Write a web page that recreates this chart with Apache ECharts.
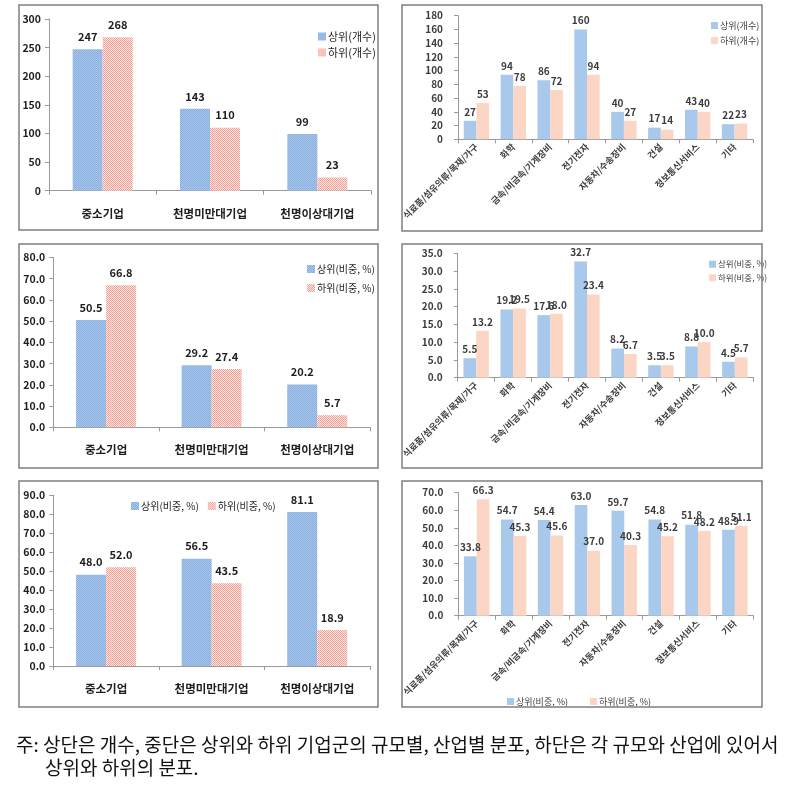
<!DOCTYPE html>
<html><head><meta charset="utf-8">
<script src="https://cdn.jsdelivr.net/npm/echarts@6/dist/echarts.min.js"></script>
<style>html,body{margin:0;padding:0;background:#fff}#c{width:787px;height:786px}</style>
</head><body><div id="c"></div>
<script>
// ---- data ----
const cats3 = ['중소기업', '천명미만대기업', '천명이상대기업'];
const cats8 = ['식료품/섬유의류/목재/가구', '화학', '금속/비금속/기계장비', '전기전자', '자동차/수송장비', '건설', '정보통신서비스', '기타'];

const cntTop3 = [247, 143, 99];
const cntBot3 = [268, 110, 23];
const cntTop8 = [27, 94, 86, 160, 40, 17, 43, 22];
const cntBot8 = [53, 78, 72, 94, 27, 14, 40, 23];

const shrTop3 = [50.5, 29.2, 20.2];
const shrBot3 = [66.8, 27.4, 5.7];
const shrTop8 = [5.5, 19.2, 17.6, 32.7, 8.2, 3.5, 8.8, 4.5];
const shrBot8 = [13.2, 19.5, 18.0, 23.4, 6.7, 3.5, 10.0, 5.7];

const distTop3 = [48.0, 56.5, 81.1];
const distBot3 = [52.0, 43.5, 18.9];
const distTop8 = [33.8, 54.7, 54.4, 63.0, 59.7, 54.8, 51.8, 48.9];
const distBot8 = [66.3, 45.3, 45.6, 37.0, 40.3, 45.2, 48.2, 51.1];

const axisMax = [300, 180, 80, 35, 90, 70];
const axisStep = [50, 20, 10, 5, 10, 10];

const nameCntTop = '상위(개수)', nameCntBot = '하위(개수)';
const nameShrTop = '상위(비중, %)', nameShrBot = '하위(비중, %)';

const footLine1 = '주: 상단은 개수, 중단은 상위와 하위 기업군의 규모별, 산업별 분포, 하단은 각 규모와 산업에 있어서';
const footLine2 = '상위와 하위의 분포.';

// ---- styles ----
const FF = "'Noto Sans CJK KR', 'Noto Sans', sans-serif";
function makePattern(c1, c2) {
  const cv = document.createElement('canvas');
  cv.width = 2; cv.height = 2;
  const g = cv.getContext('2d');
  g.fillStyle = c1; g.fillRect(0, 0, 2, 2);
  g.fillStyle = c2; g.fillRect(0, 0, 1, 1); g.fillRect(1, 1, 1, 1);
  return { image: cv, repeat: 'repeat' };
}
const blueL = makePattern('#a6c6ec', '#8aafdf');
const redL = makePattern('#fce6e1', '#f3a096');
const blueR = '#a8c9ec';
const redR = '#fcd6c5';

const panels = [
  { grid: { left: 49, top: 19, width: 322, height: 171.7 }, cats: cats3, top: cntTop3, bot: cntBot3, dec: 0,
    names: [nameCntTop, nameCntBot], side: 'L', lf: 11,
    legend: { orient: 'vertical', left: 313, top: 26, itemGap: 5 } },
  { grid: { left: 458, top: 15.7, width: 295, height: 123.6 }, cats: cats8, top: cntTop8, bot: cntBot8, dec: 0,
    names: [nameCntTop, nameCntBot], side: 'R', lf: 9,
    legend: { orient: 'vertical', left: 706, top: 16, itemGap: 6 } },
  { grid: { left: 53.3, top: 257.3, width: 316.7, height: 170 }, cats: cats3, top: shrTop3, bot: shrBot3, dec: 1,
    names: [nameShrTop, nameShrBot], side: 'L', lf: 10,
    legend: { orient: 'vertical', left: 302, top: 259, itemGap: 9 } },
  { grid: { left: 457.7, top: 253.3, width: 295.6, height: 124.4 }, cats: cats8, top: shrTop8, bot: shrBot8, dec: 1,
    names: [nameShrTop, nameShrBot], side: 'R', lf: 8.5,
    legend: { orient: 'vertical', left: 704, top: 255, itemGap: 5 } },
  { grid: { left: 53.3, top: 495, width: 316.7, height: 171 }, cats: cats3, top: distTop3, bot: distBot3, dec: 1,
    names: [nameShrTop, nameShrBot], side: 'L', lf: 10,
    legend: { orient: 'horizontal', left: 126, top: 496, itemGap: 9 } },
  { grid: { left: 458.3, top: 492.7, width: 295, height: 123 }, cats: cats8, top: distTop8, bot: distBot8, dec: 1,
    names: [nameShrTop, nameShrBot], side: 'R', lf: 9,
    legend: { orient: 'horizontal', left: 502, top: 692, itemGap: 22 } }
];

const grids = [], xAxes = [], yAxes = [], series = [], legends = [];
panels.forEach((p, i) => {
  const L = p.side === 'L';
  const txt = L ? '#1e1e1e' : '#3c3c3c';
  const cTop = L ? blueL : blueR, cBot = L ? redL : redR;
  grids.push(Object.assign({ containLabel: false }, p.grid));
  xAxes.push({
    type: 'category', gridIndex: i, data: p.cats,
    axisLine: { lineStyle: { color: '#9a9a9a', width: 1 } },
    axisTick: { show: true, interval: 0, length: 4, lineStyle: { color: '#9a9a9a' } },
    axisLabel: L
      ? { interval: 0, margin: 17, fontFamily: FF, fontSize: 11.5, fontWeight: 'bold', color: txt }
      : { interval: 0, rotate: 45, margin: 6, fontFamily: FF, fontSize: 9, fontWeight: 'bold', color: txt }
  });
  yAxes.push({
    type: 'value', gridIndex: i, min: 0, max: axisMax[i], interval: axisStep[i],
    splitLine: { show: false },
    axisLine: { show: true, lineStyle: { color: '#9a9a9a', width: 1 } },
    axisTick: { show: true, length: 4, lineStyle: { color: '#9a9a9a' } },
    axisLabel: { margin: L ? 8 : 15, fontFamily: FF, fontSize: L ? 10.5 : 10, fontWeight: 'bold', color: txt,
      formatter: v => v.toFixed(p.dec) }
  });
  const bw = L ? 30 : 12.7;
  const lbl = {
    show: true, position: 'top', distance: L ? 7 : 4, fontFamily: FF,
    fontSize: L ? 11 : 10, fontWeight: 'bold', color: txt,
    formatter: o => Number(o.value).toFixed(p.dec)
  };
  series.push({ type: 'bar', name: p.names[0], xAxisIndex: i, yAxisIndex: i, data: p.top,
    barWidth: bw, barGap: '0%', itemStyle: { color: cTop }, label: lbl });
  series.push({ type: 'bar', name: p.names[1], xAxisIndex: i, yAxisIndex: i, data: p.bot,
    barWidth: bw, barGap: '0%', itemStyle: { color: cBot }, label: lbl });
  legends.push(Object.assign({
    data: [{ name: p.names[0], itemStyle: { color: cTop } }, { name: p.names[1], itemStyle: { color: cBot } }],
    icon: 'rect', itemWidth: L ? 8 : 7, itemHeight: L ? 8 : 7, selectedMode: false,
    textStyle: { fontFamily: FF, fontSize: p.lf, color: txt, padding: [0, 0, 0, -3] }
  }, p.legend));
});

const boxes = [
  [19, 5, 359, 225], [402, 5, 360, 226],
  [19, 244, 359, 224], [402, 244, 360, 224],
  [19, 481, 359, 226], [402, 481, 360, 226]
];
const graphic = boxes.map(b => ({
  type: 'rect', shape: { x: b[0], y: b[1], width: b[2], height: b[3] },
  style: { fill: 'none', stroke: '#7f7f7f', lineWidth: 1.5 }, silent: true, z: 10
}));
graphic.push({ type: 'text', style: { text: footLine1, x: 16, y: 745, font: '19px ' + FF, fill: '#111', verticalAlign: 'middle' } });
graphic.push({ type: 'text', style: { text: footLine2, x: 45, y: 768, font: '19px ' + FF, fill: '#111', verticalAlign: 'middle' } });

const chart = echarts.init(document.getElementById('c'), null, { renderer: 'canvas' });
chart.setOption({
  animation: false,
  backgroundColor: '#fff',
  grid: grids, xAxis: xAxes, yAxis: yAxes, series: series, legend: legends, graphic: graphic
});
</script></body></html>
